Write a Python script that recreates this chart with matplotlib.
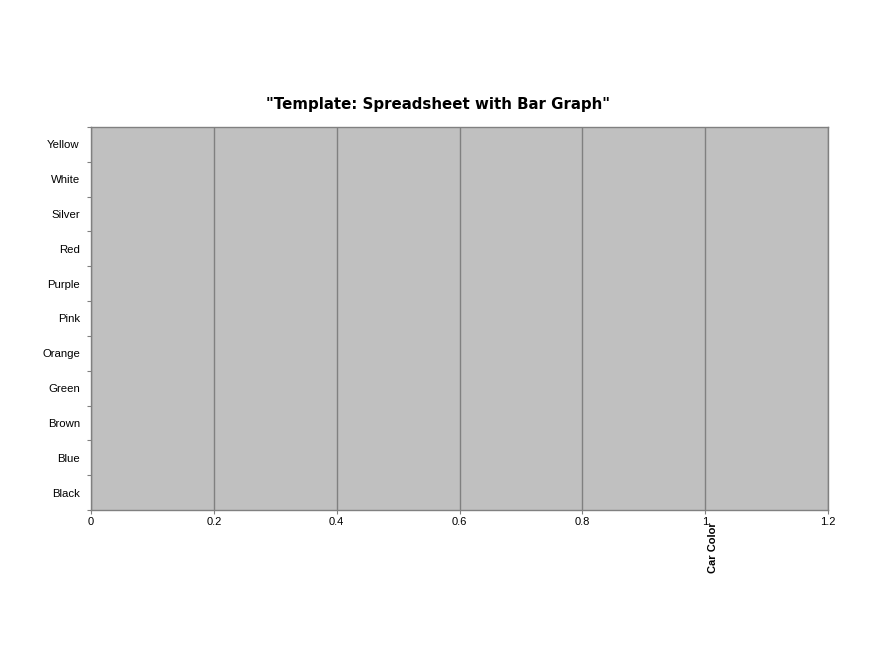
import matplotlib
matplotlib.use("Agg")
import matplotlib.pyplot as plt
from matplotlib.transforms import blended_transform_factory
import numpy as np

categories = ["Black", "Blue", "Brown", "Green", "Orange", "Pink", "Purple", "Red", "Silver", "White", "Yellow"]
values = [0, 0, 0, 0, 0, 0, 0, 0, 0, 0, 0]
xticks = [0, 0.2, 0.4, 0.6, 0.8, 1, 1.2]
xticklabels = ["0", "0.2", "0.4", "0.6", "0.8", "1", "1.2"]

plt.rcParams['font.family'] = ['Liberation Sans', 'DejaVu Sans']

fig = plt.figure(figsize=(8.8, 6.6), dpi=100)
ax = fig.add_axes([91/880, 1-510/660, (828-91)/880, (510-127)/660])
ax.set_facecolor("#C0C0C0")

y = np.arange(len(categories))
ax.barh(y, values, height=0.6, color="#9999FF", linewidth=0)
ax.set_xlim(0, 1.2)
ax.set_ylim(-0.5, len(categories) - 0.5)

ax.set_xticks(xticks)
ax.set_xticklabels(xticklabels, fontsize=8)
ax.set_yticks(y)
ax.set_yticklabels(categories, fontsize=8.2)
ax.tick_params(axis='y', which='major', length=0, pad=8)
ax.set_yticks(np.arange(len(categories) + 1) - 0.5, minor=True)
ax.tick_params(axis='y', which='minor', length=3, color="#808080", width=0.8)
ax.tick_params(axis='x', which='major', length=3, color="#808080", width=0.8, pad=2)

ax.grid(axis='x', color="#808080", linewidth=1)
ax.set_axisbelow(False)
for s in ax.spines.values():
    s.set_color("#808080")
    s.set_linewidth(1)

fig.text(438/880, 1-104/660, '"Template: Spreadsheet with Bar Graph"', fontsize=10.8,
         fontweight='bold', family=['DejaVu Sans'], ha='center', va='center')

trans = blended_transform_factory(ax.transData, ax.transAxes)
ax.text(1.005, -0.033, "Car Color", transform=trans, rotation=90, ha='left', va='top',
        fontsize=8, fontweight='bold')

fig.savefig("out.png", dpi=100)
